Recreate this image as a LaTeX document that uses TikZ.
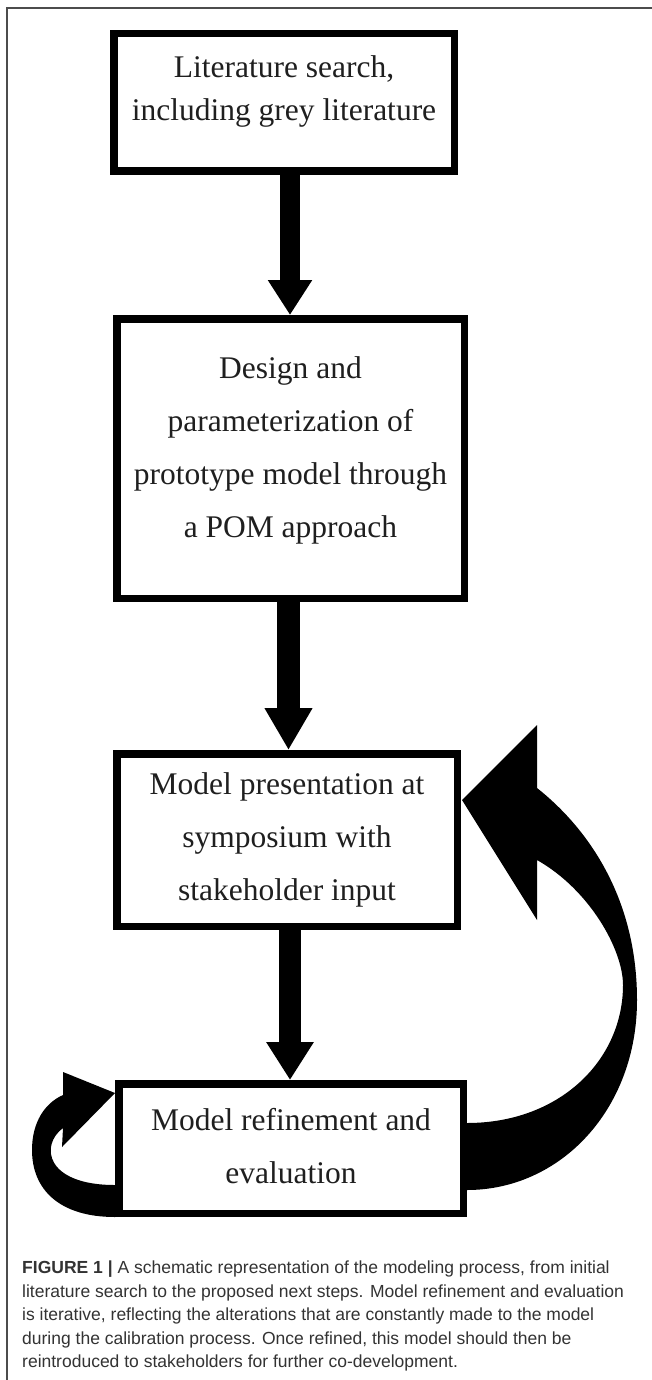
\documentclass[tikz,border=0pt]{standalone}
\usepackage{fontspec}
\setmainfont{Liberation Serif}
\newfontfamily\capfont{Liberation Sans}
\usetikzlibrary{arrows.meta}
\begin{document}
\begin{tikzpicture}[x=1pt,y=-1pt,
  box/.style={draw=black,line width=7.5pt,fill=white,inner sep=0pt},
  boxtext/.style={align=center,inner sep=0pt,text=black!88,font=\fontsize{31.5}{53}\selectfont},
  bigarrow/.style={draw=black,line width=#1,-{Triangle[width=45pt,length=38pt]}},
  band/.style={fill=black},
  frameline/.style={draw=black!70,line width=2pt}]

\useasboundingbox (0,0) rectangle (652,1380);
\fill[white] (0,0) rectangle (652,1380);

% frame lines
\draw[frameline] (7,1380) -- (7,8) -- (652,8);

% curved arrows (drawn first, boxes on top)
\fill[band] (467,1190) .. controls (560,1190) and (637,1110) .. (637,1000)
  .. controls (637,900) and (590,830) .. (537,788)
  -- (537,725) -- (462,800) -- (537,920) -- (537,860)
  .. controls (590,890) and (623,950) .. (623,985)
  .. controls (623,1060) and (560,1123) .. (467,1123) -- cycle;

\fill[band] (115,1217) .. controls (60,1217) and (32,1190) .. (32,1150)
  .. controls (32,1122) and (45,1103) .. (63,1095)
  -- (63,1072) -- (115,1093) -- (62,1147) -- (63,1128)
  .. controls (40,1145) and (45,1185) .. (115,1185) -- cycle;

% boxes
\node[box,minimum width=340.5pt,minimum height=137.5pt] (b1) at (284,102.5) {};
\node[box,minimum width=347.5pt,minimum height=279.5pt] (b2) at (290.5,458.5) {};
\node[box,minimum width=340.5pt,minimum height=172.5pt] (b3) at (287,840) {};
\node[box,minimum width=344.5pt,minimum height=129.5pt] (b4) at (291,1148.5) {};

% box texts
\node[boxtext,font=\fontsize{31.5}{43}\selectfont] (t1) at (284,91.5) {Literature search,\\including grey literature};
\node[boxtext] (t2) at (290.5,450) {Design and\\parameterization of\\prototype model through\\a POM approach};
\node[boxtext] (t3) at (287,840) {Model presentation at\\symposium with\\stakeholder input};
\node[boxtext] (t4) at (291,1146) {Model refinement and\\evaluation};

% straight arrows
\draw[bigarrow=20pt,-{Triangle[width=42pt,length=35pt]}] ([xshift=6pt]b1.south) -- ([xshift=6pt]b1.south |- b2.north);
\draw[bigarrow=23pt,-{Triangle[width=45pt,length=42pt]}] ([xshift=-2pt]b2.south) -- ([xshift=-2pt]b2.south |- b3.north);
\draw[bigarrow=22pt] ([xshift=3pt]b3.south) -- ([xshift=3pt]b3.south |- b4.north);

% caption
\node[anchor=north west,align=left,inner sep=0pt,text=black!80,
      font=\capfont\fontsize{17.5}{23.5}\selectfont] (cap) at (22,1261)
 {\textbf{FIGURE 1 |} A schematic representation of the modeling process, from initial\\
  literature search to the proposed next steps. Model refinement and evaluation\\
  is iterative, reflecting the alterations that are constantly made to the model\\
  during the calibration process. Once refined, this model should then be\\
  reintroduced to stakeholders for further co-development.};
\end{tikzpicture}
\end{document}
